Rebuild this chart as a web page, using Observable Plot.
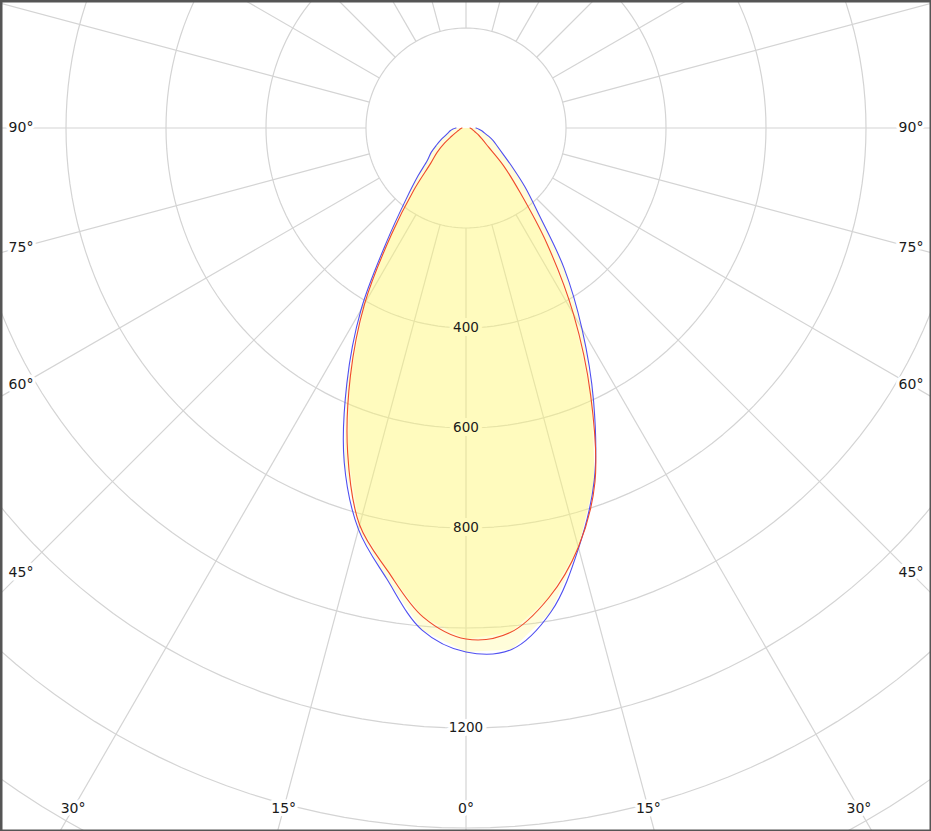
<!DOCTYPE html>
<html>
<head>
<meta charset="utf-8">
<script src="https://cdn.jsdelivr.net/npm/d3@7"></script>
<script src="https://cdn.jsdelivr.net/npm/@observablehq/plot@0.6"></script>
<style>
  html, body { margin: 0; padding: 0; background: #fff; }
  #chart svg { display: block; overflow: hidden; }
</style>
</head>
<body>
<div id="chart"></div>
<script>
// ---- data ----
const angles = [-90,-85,-80,-75,-70,-65,-60,-55,-50,-45,-40,-35,-30,-25,-20,-15,-10,-5,0,5,10,15,20,25,30,35,40,45,50,55,60,65,70,75,80,85,90];
const redValues = [8,10,12,14,18,24,34,52,75,100,163,260,405,547,692,822,900,982,1022,1013,954,868,754,590,430,282,168,105,58,40,30,22,17,14,12,10,8];
const blueValues = [20,27,32,37,44,55,68,85,101,136,187,275,420,564,712,831,915,1008,1048,1047,982,870,750,604,464,342,228,167,120,90,72,60,48,38,32,26,20];
const ringValues = [200,400,600,800,1000,1200,1400,1600,1800];
const ringLabels = [400,600,800,1200];
const spokeAngles = [0,15,30,45,60,75,90,105,120,135,150,165,180,195,210,225,240,255,270,285,300,315,330,345];
const angleLabels = [-90,-75,-60,-45,-30,-15,0,15,30,45,60,75,90];

// ---- layout ----
const W = 931, H = 831, CX = 465.5, CY = 127.5, K = 2;
const rad = a => a * Math.PI / 180;
const px = (a, v) => v * Math.sin(rad(a));
const py = (a, v) => -v * Math.cos(rad(a));

const red = angles.map((a, i) => ({a, v: redValues[i]}));
const blue = angles.map((a, i) => ({a, v: blueValues[i]}));

const ringPts = ringValues.flatMap(v => d3.range(0, 362, 2).map(a => ({v, a})));
const spokes = spokeAngles.map(a => ({a, r0: 200, r1: 2000}));

const xLim = (CX - 20.5) * K, yLim = (808 - CY) * K;
const labelData = angleLabels.map(a => {
  const s = Math.sin(rad(a)), c = Math.cos(rad(a));
  const tx = Math.abs(s) > 1e-9 ? xLim / Math.abs(s) : Infinity;
  const ty = c > 1e-9 ? yLim / c : Infinity;
  const t = Math.min(tx, ty);
  return {x: t * s, y: -t * c, text: Math.abs(a) + "°"};
});

const fontFamily = "DejaVu Sans, Verdana, sans-serif";
const ringFont = {fontFamily, fontSize: 13.5, fill: "#1a1a1a"};
const angleFont = {fontFamily, fontSize: 14, fill: "#1a1a1a"};

const chart = Plot.plot({
  width: W,
  height: H,
  margin: 0,
  x: {domain: [-CX * K, (W - CX) * K], axis: null},
  y: {domain: [-(H - CY) * K, CY * K], axis: null},
  style: {background: "#fff", overflow: "hidden"},
  marks: [
    Plot.line(ringPts, {x: d => px(d.a, d.v), y: d => py(d.a, d.v), z: "v", stroke: "#d4d4d4", strokeWidth: 1.2, clip: true}),
    Plot.link(spokes, {
      x1: d => px(d.a, d.r0), y1: d => py(d.a, d.r0),
      x2: d => px(d.a, d.r1), y2: d => py(d.a, d.r1),
      stroke: "#d4d4d4", strokeWidth: 1.2, clip: true
    }),
    // white boxes behind the ring labels (below the fill)
    Plot.text(ringLabels, {x: 0, y: d => -d, text: d => String(d), ...ringFont, fill: "white", stroke: "white", strokeWidth: 8}),
    Plot.text(labelData, {x: "x", y: "y", text: "text", ...angleFont, stroke: "white", strokeWidth: 7, paintOrder: "stroke"}),
    Plot.line(blue, {x: d => px(d.a, d.v), y: d => py(d.a, d.v), fill: "#fff670", fillOpacity: 0.26, stroke: "none"}),
    Plot.line(red, {x: d => px(d.a, d.v), y: d => py(d.a, d.v), fill: "#fff670", fillOpacity: 0.26, stroke: "none"}),
    Plot.text(ringLabels, {x: 0, y: d => -d, text: d => String(d), ...ringFont}),
    Plot.line(blue, {x: d => px(d.a, d.v), y: d => py(d.a, d.v), stroke: "#4f4ff0", strokeWidth: 1.1, curve: "catmull-rom"}),
    Plot.line(red, {x: d => px(d.a, d.v), y: d => py(d.a, d.v), stroke: "#f04a2a", strokeWidth: 1.1, curve: "catmull-rom"}),
    Plot.frame({stroke: "#555", strokeWidth: 4})
  ]
});
document.getElementById("chart").appendChild(chart);
</script>
</body>
</html>
